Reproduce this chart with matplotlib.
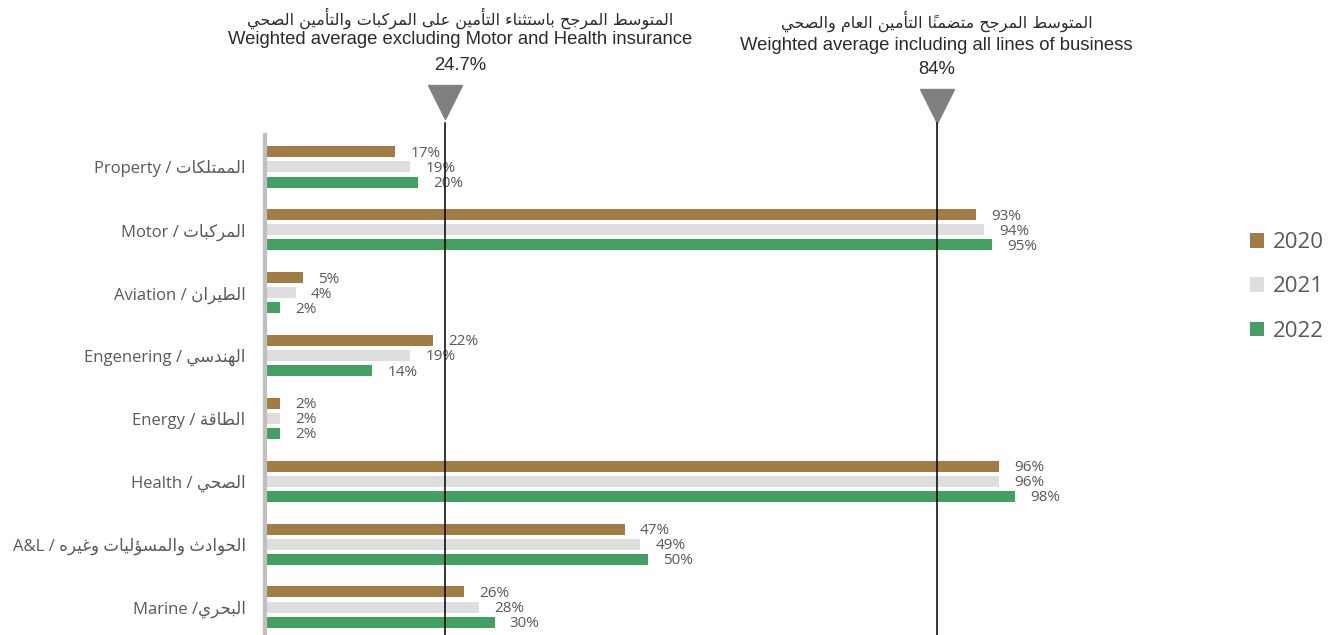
import matplotlib
matplotlib.use("Agg")
import matplotlib.pyplot as plt
from matplotlib.patches import Patch

#===================================================================#
#                              DATA                                 #
#===================================================================#

cats_en = ["Property / ", "Motor / ", "Aviation / ", "Engenering / ",
           "Energy / ", "Health / ", "A&L / ", "Marine /"]
cats_ar = ["الممتلكات", "المركبات", "الطيران", "الهندسي",
           "الطاقة", "الصحي", "الحوادث والمسؤليات وغيره", "البحري"]

years = ["2020", "2021", "2022"]
v2020 = [17, 93, 5, 22, 2, 96, 47, 26]
v2021 = [19, 94, 4, 19, 2, 96, 49, 28]
v2022 = [20, 95, 2, 14, 2, 98, 50, 30]
colors = ["#A27C45", "#DEDEDE", "#449F63"]

avg_ar = ["المتوسط المرجح باستثناء التأمين على المركبات والتأمين الصحي",
          "المتوسط المرجح متضمناً التأمين العام والصحي"]
avg_en = ["Weighted average excluding Motor and Health insurance",
          "Weighted average including all lines of business"]
avg_val = ["24.7%", "84%"]
avg_line_x = [23.5, 87.8]   # where the marker lines sit on the chart

#===================================================================#
#                  ARABIC SHAPING (no raqm in mpl)                  #
#===================================================================#

FORMS = {}  # isolated, final, initial, medial
for ch, start in zip("ءآأؤإ", [0xFE80, 0xFE81, 0xFE83, 0xFE85, 0xFE87]):
    FORMS[ch] = tuple(range(start, start + (1 if ch == "ء" else 2)))
for ch, start in zip("ادذرزوة", [0xFE8D, 0xFEA9, 0xFEAB, 0xFEAD, 0xFEAF, 0xFEED, 0xFE93]):
    FORMS[ch] = (start, start + 1)
for ch, start in zip("ئبتثجحخسشصضطظعغفقكلمنهي",
                     [0xFE89, 0xFE8F, 0xFE95, 0xFE99, 0xFE9D, 0xFEA1, 0xFEA5, 0xFEB1,
                      0xFEB5, 0xFEB9, 0xFEBD, 0xFEC1, 0xFEC5, 0xFEC9, 0xFECD, 0xFED1,
                      0xFED5, 0xFED9, 0xFEDD, 0xFEE1, 0xFEE5, 0xFEE9, 0xFEF1]):
    FORMS[ch] = (start, start + 1, start + 2, start + 3)
FORMS["ى"] = (0xFEEF, 0xFEF0, 0xFBE8, 0xFBE9)
LAM_ALEF = {"آ": (0xFEF5, 0xFEF6), "أ": (0xFEF7, 0xFEF8),
            "إ": (0xFEF9, 0xFEFA), "ا": (0xFEFB, 0xFEFC)}
MARKS = set(chr(c) for c in range(0x064B, 0x0653)) | {"\u0670"}


def shape(text):
    # build clusters: [key, marks]
    clusters = []
    i = 0
    while i < len(text):
        c = text[i]
        if c in MARKS and clusters:
            clusters[-1][1] += c
            i += 1
            continue
        if c == "ل" and i + 1 < len(text) and text[i + 1] in LAM_ALEF:
            clusters.append(["LA" + text[i + 1], ""])
            i += 2
            continue
        clusters.append([c, ""])
        i += 1

    def forms(key):
        if key.startswith("LA"):
            return LAM_ALEF[key[2]]
        return FORMS.get(key)

    glyphs = []
    for k, (key, marks) in enumerate(clusters):
        f = forms(key)
        if f is None:
            glyphs.append(key + marks)
            continue
        prev = forms(clusters[k - 1][0]) if k > 0 else None
        nxt = forms(clusters[k + 1][0]) if k + 1 < len(clusters) else None
        # lam of a lam-alef joins to the previous letter
        join_prev = prev is not None and len(prev) == 4 and len(f) >= 2
        join_next = len(f) == 4 and not key.startswith("LA") and nxt is not None and len(nxt) >= 2
        if join_prev and join_next:
            g = f[3]
        elif join_prev:
            g = f[1]
        elif join_next:
            g = f[2]
        else:
            g = f[0]
        glyphs.append(chr(g) + marks)
    return "".join(reversed(glyphs))


#===================================================================#
#                              PLOT                                 #
#===================================================================#

latin = ["Open Sans", "DejaVu Sans"]
arial = ["Liberation Sans", "DejaVu Sans"]
grey_txt = "#595959"
title_txt = "#2B2B2B"

fig = plt.figure(figsize=(13.34, 6.35), dpi=100)
ax = fig.add_axes([265 / 1334, 0, (1030 - 265) / 1334, 500 / 635])

ypos = list(range(len(cats_en)))
offsets = [-0.24, 0, 0.24]
bar_h = 0.175
for vals, off, col in zip([v2020, v2021, v2022], offsets, colors):
    ys = [y + off for y in ypos]
    ax.barh(ys, vals, height=bar_h, color=col, zorder=2)
    for y, v in zip(ys, vals):
        ax.annotate(f"{v}%", xy=(v, y), xytext=(11, -1), textcoords="offset points",
                    va="center", ha="left", fontsize=11, color=grey_txt, family=latin)

ax.set_xlim(0, 100)
ax.set_ylim(7.445, -0.509)
ax.set_yticks(ypos)
ax.set_yticklabels([en + shape(ar) for en, ar in zip(cats_en, cats_ar)],
                   fontsize=12, color=grey_txt, family=latin)
ax.tick_params(axis="y", length=0, pad=14)
ax.set_xticks([])
for s in ["top", "right", "bottom"]:
    ax.spines[s].set_visible(False)
ax.spines["left"].set_color("#BFBFBF")
ax.spines["left"].set_linewidth(3)

# weighted average markers
tr = ax.get_xaxis_transform()
text_y = [(1.234, 1.190, 1.140), (1.228, 1.180, 1.132)]
tri_y = [1.066, 1.058]
for x, ar, en, val, ty, tyy in zip(avg_line_x, avg_ar, avg_en, avg_val, text_y, tri_y):
    cx = x + 2 if x < 50 else x
    ax.plot([x, x], [0, 1.025], transform=tr, color="black", lw=1.1, clip_on=False, zorder=3)
    ax.plot([x], [tyy], marker="v", ms=25, color="#808080", transform=tr, clip_on=False)
    ax.text(cx, ty[0], shape(ar), transform=tr, ha="center", va="center",
            fontsize=11.5, color=title_txt, family="DejaVu Sans")
    ax.text(cx, ty[1], en, transform=tr, ha="center", va="center",
            fontsize=13.3, color=title_txt, family=arial)
    ax.text(cx, ty[2], val, transform=tr, ha="center", va="center",
            fontsize=13.3, color=title_txt, family=arial)

handles = [Patch(facecolor=c, edgecolor="none") for c in colors]
fig.legend(handles, years, loc="center left", bbox_to_anchor=(1250 / 1334, 1 - 287 / 635),
           frameon=False, labelcolor=grey_txt, handlelength=0.65, handleheight=0.65,
           handletextpad=0.4, labelspacing=1.05, borderpad=0, borderaxespad=0,
           prop={"family": latin, "size": 16})

fig.savefig("out.png", dpi=100)
